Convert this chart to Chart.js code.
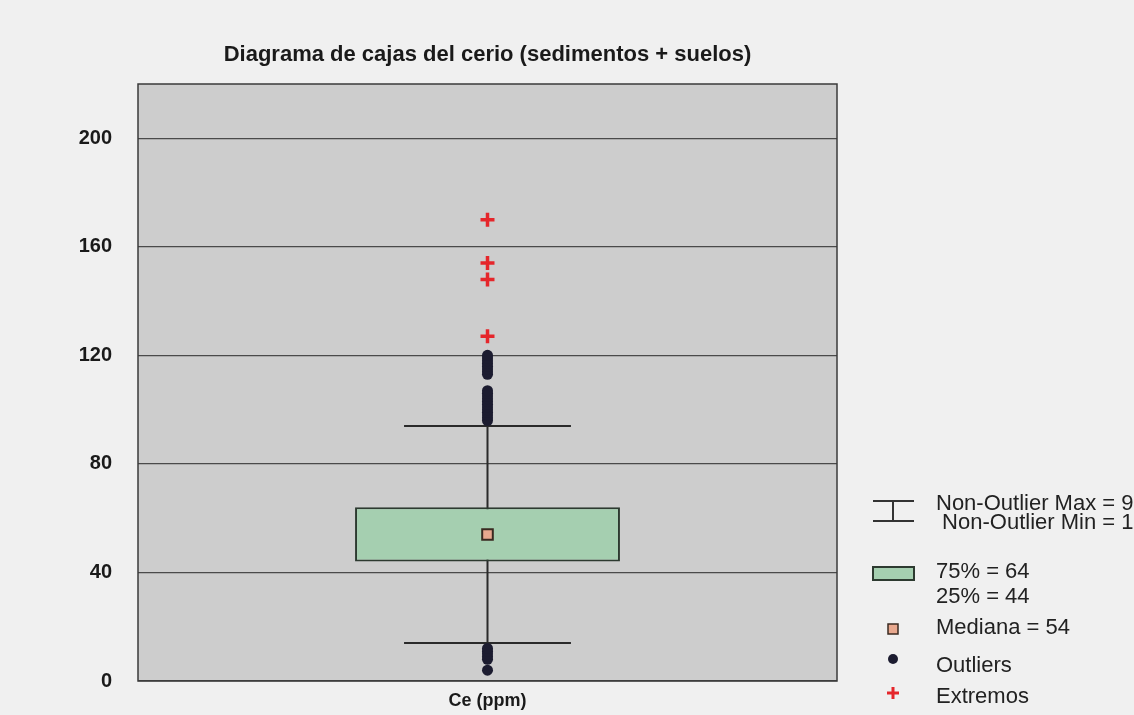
<!DOCTYPE html>
<html>
<head>
<meta charset="utf-8">
<script src="https://cdn.jsdelivr.net/npm/chart.js@4"></script>
<style>
    html, body { margin: 0; padding: 0; background: #f0f0f0; overflow: hidden; }
    #wrap { width: 1134px; height: 719px; }
</style>
</head>
<body>
<div id="wrap"><canvas id="cajas"></canvas></div>
<script>
const categories = ['Ce (ppm)'];
const whiskerMin = [14];
const whiskerMax = [94];
const q1 = [44];
const q3 = [64];
const median = [54];
const outliers = [4, 8, 9, 10, 11, 12, 96, 97, 98, 99, 100, 101, 102, 103, 104, 105, 106, 107,
    113, 114, 115, 116, 117, 118, 119, 120];
const extremes = [127, 148, 154, 170];

const FONT = "'Liberation Sans', Arial, sans-serif";

const points = (values) => values.map(v => ({ x: categories[0], y: v }));

// fondo de la página y del área de trazado
const backgroundPlugin = {
    id: 'fondo',
    beforeDraw(chart) {
        const { ctx, chartArea: a } = chart;
        ctx.save();
        ctx.fillStyle = '#f0f0f0';
        ctx.fillRect(0, 0, chart.width, chart.height);
        ctx.fillStyle = '#cdcdcd';
        ctx.fillRect(a.left, a.top, a.right - a.left, a.bottom - a.top);
        ctx.restore();
    },
    afterDatasetsDraw(chart) {
        const { ctx, chartArea: a } = chart;
        ctx.save();
        ctx.strokeStyle = '#3a3a3a';
        ctx.lineWidth = 1.5;
        ctx.strokeRect(a.left, a.top, a.right - a.left, a.bottom - a.top);
        ctx.restore();
    }
};

// bigotes: línea vertical de min a max y topes horizontales
const whiskerPlugin = {
    id: 'bigotes',
    beforeDatasetsDraw(chart) {
        const { ctx, scales } = chart;
        const bar = chart.getDatasetMeta(3).data[0];
        if (!bar) return;
        const x = bar.x;
        const half = bar.width * 0.315;
        const yMin = scales.y.getPixelForValue(whiskerMin[0]);
        const yMax = scales.y.getPixelForValue(whiskerMax[0]);
        ctx.save();
        ctx.strokeStyle = '#2a2a2a';
        ctx.lineWidth = 2;
        ctx.beginPath();
        ctx.moveTo(x, yMin);
        ctx.lineTo(x, yMax);
        ctx.moveTo(x - half, yMin);
        ctx.lineTo(x + half, yMin);
        ctx.moveTo(x - half, yMax);
        ctx.lineTo(x + half, yMax);
        ctx.stroke();
        ctx.restore();
    }
};

// leyenda a la derecha del gráfico
const legendPlugin = {
    id: 'leyenda',
    afterDraw(chart) {
        const ctx = chart.ctx;
        const tx = 936;
        const sx = 893;
        ctx.save();
        ctx.font = '22px ' + FONT;
        ctx.fillStyle = '#222';
        ctx.textBaseline = 'middle';

        // símbolo de bigotes
        ctx.strokeStyle = '#333';
        ctx.lineWidth = 2;
        ctx.beginPath();
        ctx.moveTo(873, 501); ctx.lineTo(914, 501);
        ctx.moveTo(873, 521); ctx.lineTo(914, 521);
        ctx.moveTo(sx, 501); ctx.lineTo(sx, 521);
        ctx.stroke();
        ctx.fillText('Non-Outlier Max = ' + whiskerMax[0], tx, 504);
        ctx.fillText(' Non-Outlier Min = ' + whiskerMin[0], tx, 523);

        // caja
        ctx.fillStyle = '#a5cfb0';
        ctx.fillRect(873, 567, 41, 13);
        ctx.strokeStyle = '#2d3a30';
        ctx.lineWidth = 2;
        ctx.strokeRect(873, 567, 41, 13);
        ctx.fillStyle = '#222';
        ctx.fillText('75% = ' + q3[0], tx, 572);
        ctx.fillText('25% = ' + q1[0], tx, 597);

        // mediana
        ctx.fillStyle = '#e8a88e';
        ctx.fillRect(sx - 5, 624, 10, 10);
        ctx.strokeStyle = '#3a2a20';
        ctx.lineWidth = 1.5;
        ctx.strokeRect(sx - 5, 624, 10, 10);
        ctx.fillStyle = '#222';
        ctx.fillText('Mediana = ' + median[0], tx, 628);

        // outliers
        ctx.fillStyle = '#1c1c30';
        ctx.beginPath();
        ctx.arc(sx, 659, 5, 0, Math.PI * 2);
        ctx.fill();
        ctx.fillStyle = '#222';
        ctx.fillText('Outliers', tx, 666);

        // extremos
        ctx.strokeStyle = '#e5262b';
        ctx.lineWidth = 3;
        ctx.beginPath();
        ctx.moveTo(sx - 6, 693); ctx.lineTo(sx + 6, 693);
        ctx.moveTo(sx, 687); ctx.lineTo(sx, 699);
        ctx.stroke();
        ctx.fillText('Extremos', tx, 697);
        ctx.restore();
    }
};

const data = {
    labels: categories,
    datasets: [
        {
            type: 'line',
            label: 'Extremos',
            data: points(extremes),
            showLine: false,
            pointStyle: 'cross',
            pointRadius: 7,
            borderColor: '#e5262b',
            borderWidth: 3.5,
        },
        {
            type: 'line',
            label: 'Outliers',
            data: points(outliers),
            showLine: false,
            pointStyle: 'circle',
            pointRadius: 5.5,
            backgroundColor: '#1c1c30',
            borderColor: '#1c1c30',
            borderWidth: 0,
        },
        {
            type: 'line',
            label: 'Mediana',
            data: median,
            showLine: false,
            pointStyle: 'rect',
            pointRadius: 7.5,
            backgroundColor: '#e8a88e',
            borderColor: '#3a2a20',
            borderWidth: 2,
        },
        {
            type: 'bar',
            label: '25% - 75%',
            data: q1.map((v, i) => [v, q3[i]]),
            backgroundColor: '#a5cfb0',
            borderColor: '#2d3a30',
            borderWidth: 2,
            borderSkipped: false,
            categoryPercentage: 1,
            barPercentage: 0.379,
        },
    ]
};

new Chart(document.getElementById('cajas'), {
    data: data,
    plugins: [backgroundPlugin, whiskerPlugin, legendPlugin],
    options: {
        responsive: true,
        maintainAspectRatio: false,
        animation: false,
        layout: { padding: { left: 0, right: 297, top: 0, bottom: 0 } },
        plugins: {
            legend: { display: false },
            tooltip: { enabled: false },
            title: {
                display: true,
                fullSize: false,
                text: 'Diagrama de cajas del cerio (sedimentos + suelos)',
                color: '#1a1a1a',
                font: { family: FONT, size: 22, weight: 'bold' },
                padding: { top: 42, bottom: 15.6 },
            },
        },
        scales: {
            x: {
                type: 'category',
                grid: { display: false, drawTicks: false },
                border: { display: false },
                ticks: {
                    color: '#1a1a1a',
                    font: { family: FONT, size: 18, weight: 'bold' },
                    padding: 9,
                },
                afterFit: (scale) => { scale.height = 34; },
            },
            y: {
                min: 0,
                max: 220,
                grid: { color: '#4a4a4a', lineWidth: 1.3, drawTicks: false },
                border: { display: false },
                ticks: {
                    stepSize: 40,
                    includeBounds: false,
                    color: '#1a1a1a',
                    font: { family: FONT, size: 20, weight: 'bold' },
                    padding: 26,
                },
                afterFit: (scale) => { scale.width = 138; },
            },
        },
    },
});
</script>
</body>
</html>
